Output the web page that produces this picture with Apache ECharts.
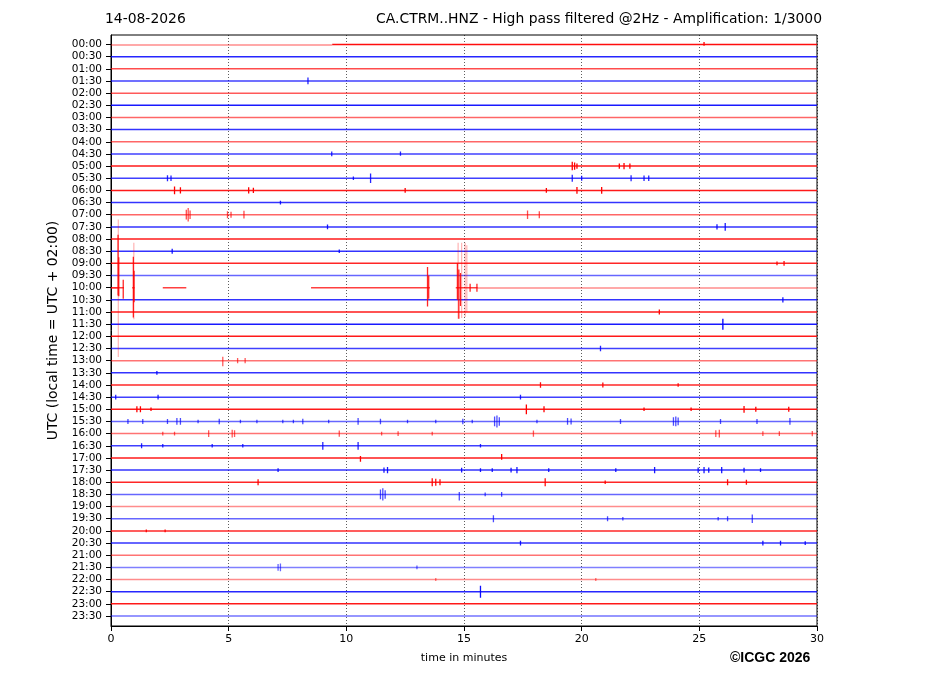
<!DOCTYPE html>
<html>
<head>
<meta charset="utf-8">
<script src="https://cdn.jsdelivr.net/npm/echarts@6/dist/echarts.min.js"></script>
<style>
  html, body { margin: 0; padding: 0; background: #fff; }
  #main { width: 927px; height: 696px; }
</style>
</head>
<body>
<div id="main"></div>
<script>
// one trace per half hour, top to bottom
const rowLabels = [
  '00:00', '00:30', '01:00', '01:30', '02:00', '02:30', '03:00', '03:30',
  '04:00', '04:30', '05:00', '05:30', '06:00', '06:30', '07:00', '07:30',
  '08:00', '08:30', '09:00', '09:30', '10:00', '10:30', '11:00', '11:30',
  '12:00', '12:30', '13:00', '13:30', '14:00', '14:30', '15:00', '15:30',
  '16:00', '16:30', '17:00', '17:30', '18:00', '18:30', '19:00', '19:30',
  '20:00', '20:30', '21:00', '21:30', '22:00', '22:30', '23:00', '23:30',
];
const minuteTicks = [0, 5, 10, 15, 20, 25, 30];

// spikes: [row, minute, up, down] in trace spacing units
const spikes = [
  [0, 25.2, 0.2, 0.1],
  [3, 8.37, 0.28, 0.28],
  [9, 9.38, 0.2, 0.2], [9, 12.3, 0.2, 0.15],
  [10, 19.6, 0.35, 0.35], [10, 19.7, 0.3, 0.3], [10, 19.8, 0.22, 0.22],
  [10, 21.6, 0.22, 0.22], [10, 21.8, 0.25, 0.25], [10, 22.05, 0.22, 0.22],
  [11, 2.4, 0.25, 0.25], [11, 2.55, 0.22, 0.22], [11, 10.3, 0.15, 0.15], [11, 11.03, 0.4, 0.4],
  [11, 19.6, 0.28, 0.28], [11, 20.0, 0.2, 0.2], [11, 22.1, 0.25, 0.25],
  [11, 22.65, 0.22, 0.22], [11, 22.85, 0.22, 0.22],
  [12, 2.7, 0.32, 0.32], [12, 2.95, 0.25, 0.25], [12, 5.85, 0.25, 0.25], [12, 6.05, 0.22, 0.22],
  [12, 12.5, 0.2, 0.2], [12, 18.5, 0.2, 0.2], [12, 19.8, 0.28, 0.28], [12, 20.85, 0.28, 0.28],
  [13, 7.2, 0.15, 0.15],
  [14, 3.2, 0.4, 0.4], [14, 3.28, 0.55, 0.55], [14, 3.36, 0.35, 0.35],
  [14, 4.95, 0.28, 0.28], [14, 5.1, 0.25, 0.25], [14, 5.65, 0.32, 0.32],
  [14, 17.7, 0.35, 0.35], [14, 18.2, 0.28, 0.28],
  [15, 9.2, 0.2, 0.2], [15, 25.75, 0.22, 0.22], [15, 26.1, 0.32, 0.32],
  [17, 2.6, 0.2, 0.2], [17, 9.7, 0.15, 0.15],
  [18, 28.3, 0.15, 0.15], [18, 28.6, 0.2, 0.2],
  [20, 0.3, 4.35, 0.65], [20, 0.33, 2.5, 0.7], [20, 0.52, 0.65, 0.9],
  [20, 0.95, 2.55, 2.45], [20, 0.98, 1.4, 1.2],
  [20, 13.45, 1.7, 1.55], [20, 13.5, 1.0, 0.9],
  [20, 14.72, 2.0, 1.0], [20, 14.78, 1.5, 2.55], [20, 14.85, 1.2, 1.5],
  [20, 15.26, 0.33, 0.33], [20, 15.55, 0.33, 0.33],
  [21, 28.55, 0.22, 0.22],
  [22, 23.3, 0.2, 0.2],
  [23, 26.0, 0.45, 0.45],
  [25, 20.8, 0.22, 0.22],
  [26, 4.75, 0.32, 0.45], [26, 5.38, 0.22, 0.22], [26, 5.7, 0.22, 0.22],
  [27, 1.95, 0.15, 0.15],
  [28, 18.25, 0.22, 0.22], [28, 20.9, 0.2, 0.2], [28, 24.1, 0.15, 0.15],
  [29, 0.2, 0.2, 0.2], [29, 2.0, 0.2, 0.2], [29, 17.4, 0.2, 0.2],
  [30, 1.1, 0.25, 0.25], [30, 1.25, 0.25, 0.25], [30, 1.7, 0.15, 0.15],
  [30, 17.65, 0.4, 0.4], [30, 18.4, 0.25, 0.25], [30, 22.65, 0.15, 0.15],
  [30, 24.65, 0.15, 0.15], [30, 26.9, 0.28, 0.28], [30, 27.4, 0.2, 0.2], [30, 28.8, 0.2, 0.2],
  [31, 0.72, 0.2, 0.2], [31, 1.35, 0.2, 0.2], [31, 2.4, 0.2, 0.2],
  [31, 2.8, 0.28, 0.28], [31, 2.95, 0.28, 0.28], [31, 3.7, 0.15, 0.15],
  [31, 4.6, 0.22, 0.22], [31, 5.5, 0.15, 0.15], [31, 6.2, 0.15, 0.15],
  [31, 7.3, 0.15, 0.15], [31, 7.75, 0.15, 0.15], [31, 8.15, 0.22, 0.22],
  [31, 9.25, 0.15, 0.15], [31, 10.5, 0.28, 0.28], [31, 11.45, 0.22, 0.22],
  [31, 12.6, 0.15, 0.15], [31, 13.8, 0.15, 0.15], [31, 14.95, 0.22, 0.22],
  [31, 15.35, 0.15, 0.15], [31, 16.3, 0.4, 0.4], [31, 16.4, 0.5, 0.5],
  [31, 16.5, 0.35, 0.35], [31, 18.1, 0.15, 0.15], [31, 19.4, 0.28, 0.28],
  [31, 19.55, 0.25, 0.25], [31, 21.65, 0.2, 0.2], [31, 23.9, 0.35, 0.35],
  [31, 24.0, 0.4, 0.4], [31, 24.1, 0.32, 0.32], [31, 25.9, 0.2, 0.2],
  [31, 27.45, 0.2, 0.2], [31, 28.85, 0.28, 0.28],
  [32, 2.2, 0.15, 0.15], [32, 2.7, 0.15, 0.15], [32, 4.15, 0.28, 0.28],
  [32, 5.15, 0.32, 0.32], [32, 5.25, 0.28, 0.28], [32, 9.7, 0.25, 0.25],
  [32, 11.5, 0.15, 0.15], [32, 12.2, 0.2, 0.2], [32, 13.65, 0.15, 0.15],
  [32, 17.95, 0.25, 0.25], [32, 25.7, 0.28, 0.28], [32, 25.85, 0.32, 0.32],
  [32, 27.7, 0.2, 0.2], [32, 28.4, 0.2, 0.2], [32, 29.8, 0.22, 0.22],
  [33, 1.3, 0.2, 0.2], [33, 2.2, 0.15, 0.15], [33, 4.3, 0.15, 0.15],
  [33, 5.6, 0.15, 0.15], [33, 9.0, 0.32, 0.32], [33, 10.5, 0.32, 0.32],
  [33, 15.7, 0.15, 0.15],
  [34, 10.6, 0.15, 0.32], [34, 16.6, 0.32, 0.15],
  [35, 7.1, 0.15, 0.15], [35, 11.6, 0.22, 0.22], [35, 11.75, 0.25, 0.25],
  [35, 14.9, 0.2, 0.2], [35, 15.7, 0.15, 0.15], [35, 16.2, 0.15, 0.15],
  [35, 17.0, 0.2, 0.2], [35, 17.25, 0.25, 0.25], [35, 18.6, 0.15, 0.15],
  [35, 21.45, 0.15, 0.15], [35, 23.1, 0.25, 0.25], [35, 24.95, 0.22, 0.22],
  [35, 25.2, 0.25, 0.25], [35, 25.4, 0.22, 0.22], [35, 25.95, 0.25, 0.25],
  [35, 26.9, 0.2, 0.2], [35, 27.6, 0.15, 0.15],
  [36, 6.25, 0.25, 0.25], [36, 13.65, 0.32, 0.32], [36, 13.8, 0.28, 0.28],
  [36, 13.98, 0.25, 0.25], [36, 18.45, 0.32, 0.32], [36, 21.0, 0.15, 0.15],
  [36, 26.2, 0.25, 0.25], [36, 27.0, 0.2, 0.2],
  [37, 11.45, 0.4, 0.4], [37, 11.55, 0.5, 0.5], [37, 11.65, 0.35, 0.35],
  [37, 14.8, 0.2, 0.5], [37, 15.9, 0.15, 0.15], [37, 16.6, 0.2, 0.2],
  [39, 16.25, 0.28, 0.28], [39, 21.1, 0.2, 0.2], [39, 21.75, 0.15, 0.15],
  [39, 25.8, 0.15, 0.15], [39, 26.2, 0.2, 0.2], [39, 27.25, 0.35, 0.35],
  [40, 1.5, 0.12, 0.12], [40, 2.3, 0.12, 0.12],
  [41, 17.4, 0.2, 0.2], [41, 27.7, 0.2, 0.2], [41, 28.45, 0.2, 0.2],
  [41, 29.5, 0.15, 0.15],
  [43, 7.1, 0.28, 0.28], [43, 7.2, 0.32, 0.32], [43, 13.0, 0.15, 0.15],
  [44, 13.8, 0.12, 0.12], [44, 20.6, 0.12, 0.12],
  [45, 15.7, 0.5, 0.5],
];

// stretches where the trace is missing: [row, from, to]
const gaps = [
  [0, 0, 9.4],
  [20, 0.55, 0.9], [20, 1.0, 2.2], [20, 3.2, 8.5],
  [20, 13.55, 14.65], [20, 15.58, 30],
];

// weaker parts of a trace: [row, from, to]
const faintSegments = [
  [0, 0, 9.4],
  [20, 0, 0.3],
  [20, 15.58, 30],
];

// weaker spikes: [row, minute, up, down]
const faintSpikes = [
  [20, 0.31, 5.6, 5.7],
  [20, 0.97, 3.7, 2.6],
  [20, 14.75, 3.7, 2.55],
  [20, 14.9, 3.7, 2.5],
  [20, 15.05, 3.7, 2.4],
  [20, 15.12, 3.5, 2.0],
];

// how strong each trace looks
const rowAlpha = [
  0.95, 0.85, 0.7, 0.75, 0.65, 0.9, 0.6, 0.8,
  0.6, 0.75, 0.9, 0.75, 0.9, 0.8, 0.6, 0.8,
  0.9, 0.8, 0.85, 0.6, 0.75, 0.8, 0.9, 0.9,
  0.9, 0.75, 0.55, 0.8, 0.85, 0.75, 0.9, 0.6,
  0.55, 0.75, 0.9, 0.8, 0.85, 0.6, 0.45, 0.6,
  0.85, 0.8, 0.55, 0.5, 0.45, 0.85, 0.9, 0.55,
];

const chart = echarts.init(document.getElementById('main'), null, { renderer: 'canvas' });

const rowColor = i => (i % 2 === 0 ? '#ff0000' : '#0000ff');
const rowBase = i => 0 - i;

function lineSeries(data, row, width, opacity) {
  return {
    type: 'line',
    data,
    symbol: 'none',
    silent: true,
    lineStyle: { color: rowColor(row), width, opacity },
  };
}

const series = [];

// flat trace pieces between the gaps
rowLabels.forEach((label, row) => {
  const base = rowBase(row);
  const rowGaps = gaps.filter(g => g[0] === row).sort((a, b) => a[1] - b[1]);
  let start = 0;
  rowGaps.forEach((g) => {
    if (g[1] > start) series.push(lineSeries([[start, base], [g[1], base]], row, 1.5, rowAlpha[row]));
    start = g[2];
  });
  if (start < 30) series.push(lineSeries([[start, base], [30, base]], row, 1.5, rowAlpha[row]));
});

// weaker stretches as mark lines on an empty host series
faintSegments.forEach(([row, a, b]) => {
  const host = lineSeries([], row, 1.5, 0.45);
  host.markLine = {
    silent: true,
    symbol: ['none', 'none'],
    label: { show: false },
    lineStyle: { color: rowColor(row), width: 1.5, opacity: 0.45, type: 'solid' },
    data: [[{ coord: [a, rowBase(row)] }, { coord: [b, rowBase(row)] }]],
  };
  series.push(host);
});

// each spike is its own short vertical stroke
spikes.forEach(([row, m, up, down]) => {
  series.push(lineSeries([[m, rowBase(row) + up], [m, rowBase(row) - down]], row, 1.3,
    Math.min(1, rowAlpha[row] + 0.1)));
});

faintSpikes.forEach(([row, m, up, down]) => {
  series.push(lineSeries([[m, rowBase(row) + up], [m, rowBase(row) - down]], row, 1.2, 0.3));
});

const rowValues = rowLabels.map((l, i) => rowBase(i));

chart.setOption({
  animation: false,
  backgroundColor: '#fff',
  title: [
    {
      text: '14-08-2026',
      left: 105,
      top: 12,
      padding: 0,
      textStyle: { fontFamily: 'DejaVu Sans', fontSize: 13.9, fontWeight: 'normal', color: '#000' },
    },
    {
      text: 'CA.CTRM..HNZ - High pass filtered @2Hz - Amplification: 1/3000',
      right: 105,
      top: 12,
      padding: 0,
      textStyle: { fontFamily: 'DejaVu Sans', fontSize: 13.9, fontWeight: 'normal', color: '#000' },
    },
  ],
  grid: {
    left: 111,
    right: 110,
    top: 35,
    bottom: 70,
    show: true,
    borderColor: '#000',
    borderWidth: 1,
  },
  xAxis: {
    type: 'value',
    min: 0,
    max: 30,
    interval: 5,
    name: 'time in minutes',
    nameLocation: 'middle',
    nameGap: 27,
    nameTextStyle: { fontFamily: 'DejaVu Sans', fontSize: 11, color: '#000' },
    axisLine: { show: true, onZero: false, lineStyle: { color: '#000', width: 1 } },
    axisTick: { show: true, length: 5, lineStyle: { color: '#000' } },
    axisLabel: {
      fontFamily: 'DejaVu Sans', fontSize: 11, color: '#000', margin: 8,
      customValues: minuteTicks,
    },
    splitLine: { show: true, lineStyle: { color: '#000', type: [1, 2], width: 0.8, opacity: 0.8 } },
  },
  yAxis: {
    type: 'value',
    min: -47.82,
    max: 0.78,
    name: 'UTC (local time = UTC + 02:00)',
    nameLocation: 'middle',
    nameGap: 47,
    nameTextStyle: { fontFamily: 'DejaVu Sans', fontSize: 13.9, color: '#000' },
    axisLine: { show: true, onZero: false, lineStyle: { color: '#000', width: 1 } },
    axisTick: { show: true, length: 5, customValues: rowValues, lineStyle: { color: '#000' } },
    axisLabel: {
      fontFamily: 'DejaVu Sans', fontSize: 10.5, color: '#000', margin: 9,
      customValues: rowValues,
      formatter: v => rowLabels[Math.round(-v)] || '',
    },
    splitLine: { show: false },
  },
  graphic: [
    {
      type: 'text',
      left: 730,
      top: 651,
      style: {
        text: '©ICGC 2026',
        font: 'bold 14px "Liberation Sans", Arial, sans-serif',
        fill: '#000',
      },
    },
  ],
  series,
});
</script>
</body>
</html>
